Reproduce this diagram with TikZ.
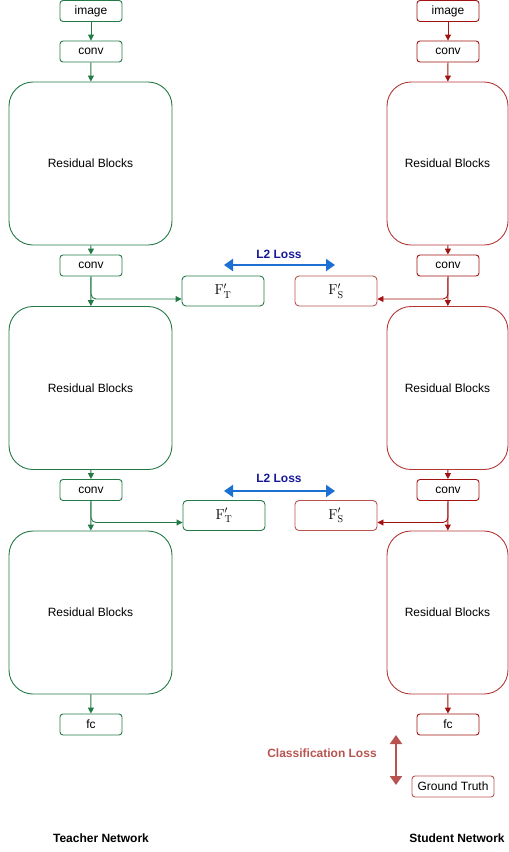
\documentclass[tikz,border=0pt]{standalone}
\usepackage[no-math]{fontspec}
\setmainfont{Liberation Sans}
\usetikzlibrary{arrows.meta}
\definecolor{tgreen}{HTML}{237A47}
\definecolor{sred}{HTML}{A21212}
\definecolor{sresred}{HTML}{B43838}
\definecolor{slight}{HTML}{B85450}
\definecolor{lblue}{HTML}{1C6FD3}
\definecolor{lnavy}{HTML}{17179A}

\begin{document}
\begin{tikzpicture}[x=1pt,y=-1pt,line width=0.9pt,
  box/.style={draw,rounded corners=3pt,minimum width=62pt,minimum height=21pt,inner sep=0pt,font=\fontsize{12}{14}\selectfont},
  res/.style={draw,rounded corners=24pt,minimum height=163pt,inner sep=0pt,font=\fontsize{12}{14}\selectfont},
  feat/.style={draw,rounded corners=4pt,minimum width=82pt,minimum height=30pt,inner sep=0pt,font=\fontsize{14}{16}\selectfont},
  flow/.style={-{Triangle[length=6pt,width=6pt]}},
  loss/.style={{Triangle[length=9pt,width=12pt]}-{Triangle[length=9pt,width=12pt]},line width=2pt},
  lbl/.style={font=\fontsize{12}{14}\selectfont\bfseries}]
  \useasboundingbox (0,0) rectangle (509,852);
  \path (91,11) node[box,tgreen] (ti) {\color{black}image}
  (91,51.5) node[box,tgreen] (tc1) {\color{black}conv}
  (90.5,163.5) node[res,tgreen,minimum width=163pt] (tr1) {\color{black}Residual Blocks}
  (91,265.5) node[box,tgreen] (tc2) {\color{black}conv}
  (223,291) node[feat,tgreen] (tf1) {\color{black}$\mathrm{F}'_\mathrm{T}$}
  (90.5,388) node[res,tgreen,minimum width=163pt] (tr2) {\color{black}Residual Blocks}
  (91,490) node[box,tgreen] (tc3) {\color{black}conv}
  (224,515.5) node[feat,tgreen] (tf2) {\color{black}$\mathrm{F}'_\mathrm{T}$}
  (90.5,612.5) node[res,tgreen,minimum width=163pt] (tr3) {\color{black}Residual Blocks}
  (91,724.5) node[box,tgreen] (tfc) {\color{black}fc};
  \path (448,11) node[box,sred] (si) {\color{black}image}
  (448,51.5) node[box,sred] (sc1) {\color{black}conv}
  (447.5,163.5) node[res,sresred,minimum width=121pt] (sr1) {\color{black}Residual Blocks}
  (448,265.5) node[box,sred] (sc2) {\color{black}conv}
  (336,291) node[feat,slight] (sf1) {\color{black}$\mathrm{F}'_\mathrm{S}$}
  (447.5,388) node[res,sresred,minimum width=121pt] (sr2) {\color{black}Residual Blocks}
  (448,490) node[box,sred] (sc3) {\color{black}conv}
  (336,515.5) node[feat,slight] (sf2) {\color{black}$\mathrm{F}'_\mathrm{S}$}
  (447.5,612.5) node[res,sresred,minimum width=121pt] (sr3) {\color{black}Residual Blocks}
  (448,724.5) node[box,sred] (sfc) {\color{black}fc}
  (453,786.5) node[box,slight,minimum width=82pt] (gt) {\color{black}Ground Truth};
  \draw[flow,tgreen] (ti) -- (tc1);
  \draw[flow,tgreen] (tc1) -- (tr1);
  \draw[flow,tgreen] (tr1) -- (tc2);
  \draw[flow,tgreen] (tc2) -- (tr2);
  \draw[flow,tgreen] (tr2) -- (tc3);
  \draw[flow,tgreen] (tc3) -- (tr3);
  \draw[flow,tgreen] (tr3) -- (tfc);
  \draw[flow,tgreen,rounded corners=5pt] (tc2.south) |- ([yshift=-8pt]tf1.west);
  \draw[flow,tgreen,rounded corners=5pt] (tc3.south) |- ([yshift=-7pt]tf2.west);
  \draw[flow,sred] (si) -- (sc1);
  \draw[flow,sred] (sc1) -- (sr1);
  \draw[flow,sred] (sr1) -- (sc2);
  \draw[flow,sred] (sc2) -- (sr2);
  \draw[flow,sred] (sr2) -- (sc3);
  \draw[flow,sred] (sc3) -- (sr3);
  \draw[flow,sred] (sr3) -- (sfc);
  \draw[flow,sred,rounded corners=5pt] (sc2.south) |- ([yshift=-8pt]sf1.east);
  \draw[flow,sred,rounded corners=5pt] (sc3.south) |- ([yshift=-7pt]sf2.east);
  \coordinate (la1) at (224,265);
  \coordinate (lb1) at (335,265);
  \coordinate (la2) at (224,491);
  \coordinate (lb2) at (335,491);
  \coordinate (ca) at (396,735);
  \coordinate (cb) at (396,785);
  \draw[loss,lblue] (la1) -- (lb1);
  \draw[loss,lblue] (la2) -- (lb2);
  \draw[loss,slight] (ca) -- (cb);
  \node[lbl,lnavy] (l2t1) at (279,254) {L2 Loss};
  \node[lbl,lnavy] (l2t2) at (279,478) {L2 Loss};
  \node[lbl,slight] (clt) at (322,753) {Classification Loss};
  \node[lbl] (tn) at (101,838) {Teacher Network};
  \node[lbl] (sn) at (457,838) {Student Network};
\end{tikzpicture}
\end{document}
